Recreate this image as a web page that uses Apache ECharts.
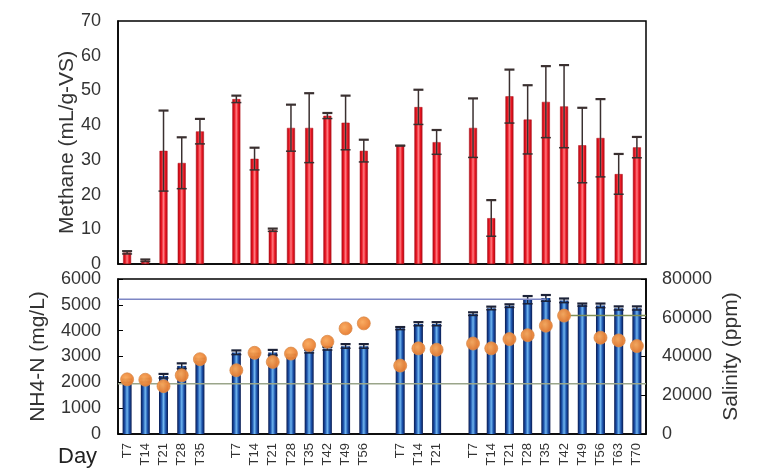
<!DOCTYPE html>
<html>
<head>
<meta charset="utf-8">
<script src="https://cdn.jsdelivr.net/npm/echarts@6/dist/echarts.min.js"></script>
<style>
html,body{margin:0;padding:0;background:#fff;}
#chart{width:776px;height:473px;}
</style>
</head>
<body>
<div id="chart"></div>
<script>
// ---- data ----
const categories = ['T7','T14','T21','T28','T35','',
  'T7','T14','T21','T28','T35','T42','T49','T56','',
  'T7','T14','T21','',
  'T7','T14','T21','T28','T35','T42','T49','T56','T63','T70'];
const methane = [3.3,1.0,32.6,29.1,38.2,null,
  47.5,30.3,9.8,39.2,39.2,42.7,40.7,32.6,null,
  34.1,45.2,35.1,null,
  39.2,13.2,48.3,41.6,46.7,45.4,34.2,36.3,25.9,33.6];
const methaneErr = [0.4,0.3,11.6,7.4,3.6,null,
  1.0,3.2,0.4,6.7,10.0,0.8,7.8,3.2,null,
  0,5.0,3.5,null,
  8.5,5.2,7.7,9.9,10.3,11.9,10.8,11.2,5.8,3.0];
const nh4 = [2050,2080,2245,2635,2855,null,
  3155,3050,3155,3010,3200,3310,3400,3400,null,
  4090,4260,4260,null,
  4650,4870,4960,5190,5260,5165,5000,4970,4870,4870];
const nh4Err = [60,60,80,100,60,null,
  80,60,100,60,60,60,80,80,null,
  50,70,70,null,
  60,60,60,150,120,80,50,80,70,70];
const salinity = [28200,28000,24700,30300,38600,null,
  32900,41900,37200,41500,45900,47600,54500,57100,null,
  35300,44200,43500,null,
  46700,44200,49000,51000,55900,61100,null,49700,48300,45400];
const methaneTicks = [0,10,20,30,40,50,60,70];
const nh4Ticks = [0,1000,2000,3000,4000,5000,6000];
const salinityTicks = [0,20000,40000,60000,80000];
// reference lines: [fromIndex ('start' = left edge), toIndex ('end' = right edge), value, colour]
const nh4RefLines = [['start', 23, 5220, '#7d86c4'], ['start', 'end', 1950, '#9aa58a']];
const salinityRefLines = [[24, 'end', 61100, '#7f8f55']];

const FONT = "'Liberation Sans', Arial, sans-serif";
const chart = echarts.init(document.getElementById('chart'), null, {renderer:'canvas'});

function errData(vals, errs){
  const out = [];
  vals.forEach((v,i)=>{ if(v!=null) out.push([i, v, errs[i]||0]); });
  return out;
}
function errRender(color, capW){
  return function(params, api){
    const x = api.value(0), v = api.value(1), e = api.value(2);
    const top = api.coord([x, v+e]);
    const bot = api.coord([x, Math.max(0, v-e)]);
    const st = {stroke: color, lineWidth: 1.5};
    return {type:'group', children:[
      {type:'line', shape:{x1:top[0],y1:top[1],x2:bot[0],y2:bot[1]}, style:st},
      {type:'line', shape:{x1:top[0]-capW/2,y1:top[1],x2:top[0]+capW/2,y2:top[1]}, style:{stroke:color,lineWidth:2.2}},
      {type:'line', shape:{x1:bot[0]-capW/2,y1:bot[1],x2:bot[0]+capW/2,y2:bot[1]}, style:{stroke:color,lineWidth:1.5}}
    ]};
  };
}
function refRender(lines){
  return function(params, api){
    const l = lines[params.dataIndex];
    const cs = params.coordSys;
    const y = api.coord([0, l[2]])[1];
    const x1 = l[0]==='start' ? cs.x : api.coord([l[0], l[2]])[0];
    const x2 = l[1]==='end' ? cs.x + cs.width : api.coord([l[1], l[2]])[0];
    return {type:'line', shape:{x1:x1,y1:y,x2:x2,y2:y}, style:{stroke:l[3], lineWidth:1.5}};
  };
}

const redGrad = new echarts.graphic.LinearGradient(0,0,1,0,[
  {offset:0,color:'#a80d18'},{offset:0.25,color:'#e8141f'},
  {offset:0.5,color:'#ff7a80'},{offset:0.75,color:'#e8141f'},{offset:1,color:'#a80d18'}]);
const blueGrad = new echarts.graphic.LinearGradient(0,0,1,0,[
  {offset:0,color:'#0a1a4e'},{offset:0.25,color:'#1a4fa8'},
  {offset:0.5,color:'#6fb6f0'},{offset:0.75,color:'#1a4fa8'},{offset:1,color:'#0a1a4e'}]);

const plain = v => String(v);
const axisLabelStyle = {color:'#333', fontSize:18, fontFamily:FONT, formatter:plain};
const nameStyle = {color:'#333', fontSize:21, fontFamily:FONT};

const option = {
  animation:false,
  backgroundColor:'#fff',
  grid:[
    {left:118, top:21, width:528, height:243, show:true, borderColor:'#000', borderWidth:1.5, backgroundColor:'transparent'},
    {left:118, top:279, width:528, height:155, show:true, borderColor:'#000', borderWidth:1.5, backgroundColor:'transparent'}
  ],
  xAxis:[
    {type:'category', gridIndex:0, data:categories, axisLine:{show:true, lineStyle:{color:'#000', width:1.5}},
     axisTick:{show:false}, axisLabel:{show:false}, splitLine:{show:false}},
    {type:'category', gridIndex:1, data:categories, axisLine:{show:true, lineStyle:{color:'#000', width:1.5}},
     axisTick:{show:false}, axisLabel:{show:true, interval:0, rotate:90, fontSize:13, color:'#333', fontFamily:FONT, margin:9},
     splitLine:{show:false}}
  ],
  yAxis:[
    {type:'value', gridIndex:0, min:methaneTicks[0], max:methaneTicks[methaneTicks.length-1], interval:10,
     axisLine:{show:true, lineStyle:{color:'#000', width:1.5}}, axisTick:{show:false}, splitLine:{show:false},
     axisLabel:Object.assign({margin:17}, axisLabelStyle),
     name:'Methane (mL/g-VS)', nameLocation:'middle', nameGap:40, nameMoveOverlap:false, nameTextStyle:nameStyle},
    {type:'value', gridIndex:1, min:nh4Ticks[0], max:nh4Ticks[nh4Ticks.length-1], interval:1000,
     axisLine:{show:true, lineStyle:{color:'#000', width:1.5}}, axisTick:{show:true, inside:true, length:5, lineStyle:{color:'#000'}},
     splitLine:{show:false}, axisLabel:Object.assign({margin:17}, axisLabelStyle),
     name:'NH4-N (mg/L)', nameLocation:'middle', nameGap:69, nameMoveOverlap:false, nameTextStyle:nameStyle},
    {type:'value', gridIndex:1, position:'right', min:salinityTicks[0], max:salinityTicks[salinityTicks.length-1], interval:20000,
     axisLine:{show:true, lineStyle:{color:'#000', width:1.5}}, axisTick:{show:true, inside:true, length:5, lineStyle:{color:'#000'}},
     splitLine:{show:false}, axisLabel:Object.assign({margin:16}, axisLabelStyle),
     name:'Salinity (ppm)', nameLocation:'middle', nameGap:75, nameMoveOverlap:false, nameTextStyle:nameStyle}
  ],
  graphic:[
    {type:'text', left:58, top:446, style:{text:'Day', fontSize:22, fontFamily:FONT, fill:'#222'}}
  ],
  series:[
    {type:'bar', xAxisIndex:0, yAxisIndex:0, data:methane, barWidth:8, itemStyle:{color:redGrad, borderColor:'#b5101a', borderWidth:0.5}, z:2},
    {type:'custom', xAxisIndex:0, yAxisIndex:0, data:errData(methane, methaneErr), renderItem:errRender('#3a3030', 10), z:3},
    {type:'bar', xAxisIndex:1, yAxisIndex:1, data:nh4, barWidth:9, itemStyle:{color:blueGrad}, z:2},
    {type:'custom', xAxisIndex:1, yAxisIndex:1, data:errData(nh4, nh4Err), renderItem:errRender('#1c2238', 10), z:3},
    {type:'custom', xAxisIndex:1, yAxisIndex:1, data:nh4RefLines.map((l,i)=>[i]), renderItem:refRender(nh4RefLines), z:4, silent:true},
    {type:'custom', xAxisIndex:1, yAxisIndex:2, data:salinityRefLines.map((l,i)=>[i]), renderItem:refRender(salinityRefLines), z:4, silent:true},
    {type:'scatter', xAxisIndex:1, yAxisIndex:2, data:salinity, symbolSize:13,
     itemStyle:{color:{type:'radial', x:0.4, y:0.4, r:0.65, colorStops:[{offset:0,color:'#f9a85a'},{offset:1,color:'#e6762a'}]},
       borderColor:'#d98a4a', borderWidth:0.8, opacity:0.95}, z:5}
  ]
};
chart.setOption(option);
</script>
</body>
</html>
